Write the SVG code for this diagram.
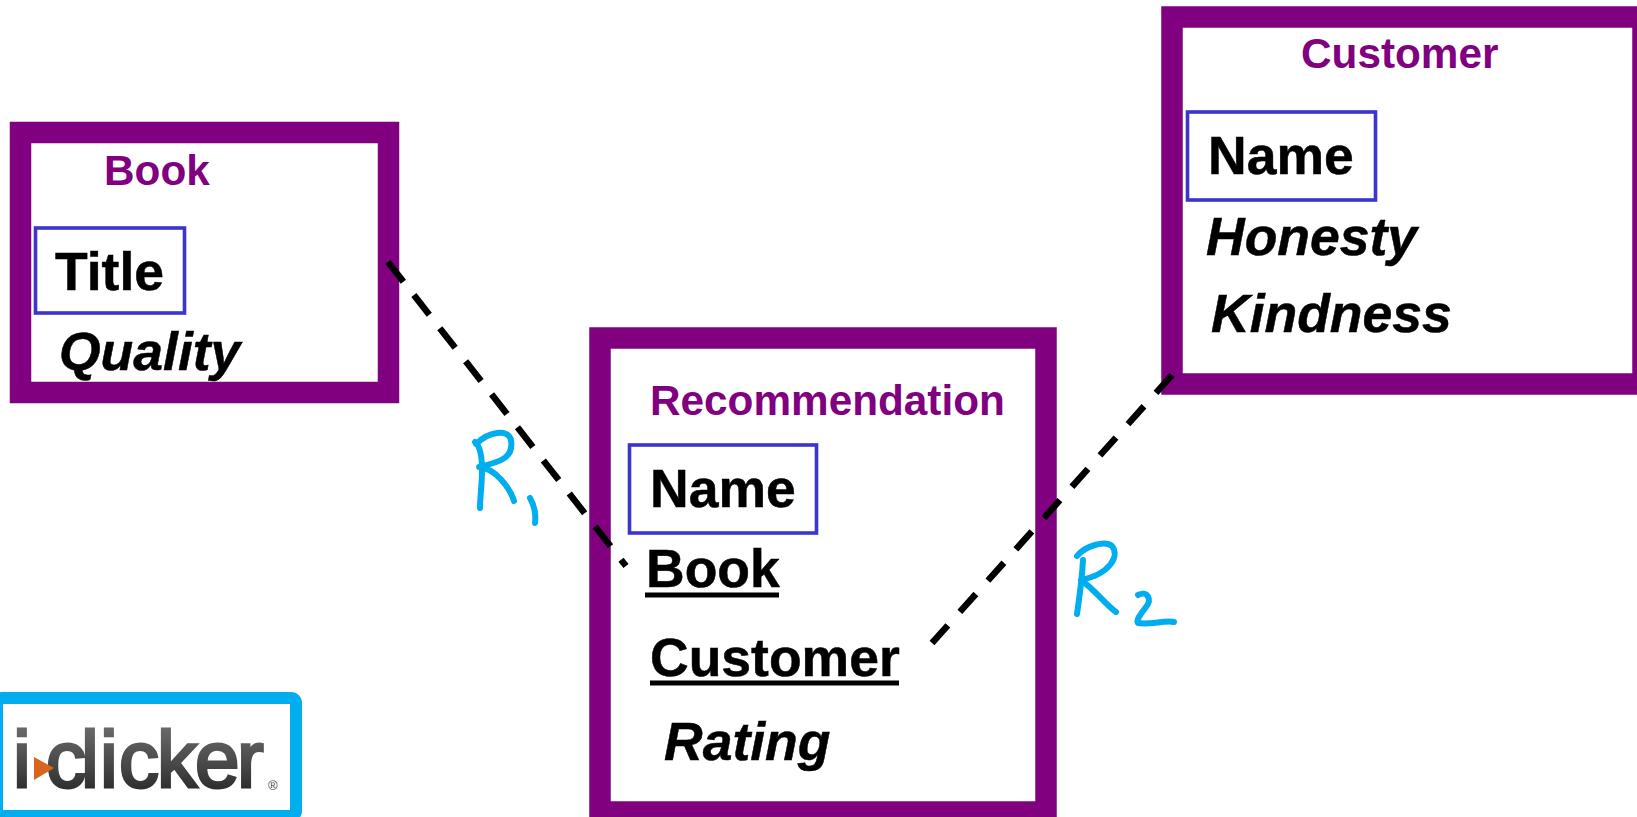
<svg xmlns="http://www.w3.org/2000/svg" width="1637" height="817" viewBox="0 0 1637 817">
<defs><linearGradient id="g" x1="0" y1="0" x2="0" y2="1"><stop offset="0" stop-color="#757575"/><stop offset="0.6" stop-color="#444"/><stop offset="1" stop-color="#1f1f1f"/></linearGradient></defs>
<style>
.box{fill:#fff;stroke:#800080;stroke-width:21.5}
.key{fill:none;stroke:#3a35d0;stroke-width:3.6}
text{font-family:"Liberation Sans",Arial,sans-serif;font-weight:700}
.t{fill:#800080;font-size:42.300px}
.a{fill:#000;stroke:#000;stroke-width:.5;font-size:53.500px}
.i{font-style:italic}
.u{stroke:#000;stroke-width:5;fill:none}
.c1{stroke:#000;stroke-width:6.500;fill:none;stroke-dasharray:25 17}
.c2{stroke:#000;stroke-width:6.500;fill:none;stroke-dasharray:24 18}
.ink{stroke:#00aeef;stroke-width:6;fill:none;stroke-linecap:round;stroke-linejoin:round}
.logo{font-size:80px;font-weight:400;fill:url(#g);stroke:url(#g);stroke-width:3}
</style>
<rect width="1637" height="817" fill="#fff"/>
<g id="node-book">
<rect class="box" x="20.500" y="132.500" width="368" height="260"/>
<text class="t" x="104" y="185">Book</text>
<rect class="key" x="35.500" y="228" width="149" height="85"/>
<text class="a" x="55" y="290">Title</text>
<text class="a i" x="59" y="370">Quality</text>
</g>
<g id="node-recommendation">
<rect class="box" x="600" y="338" width="446" height="474"/>
<text class="t" x="650" y="415">Recommendation</text>
<rect class="key" x="629.500" y="445" width="187" height="88"/>
<text class="a" x="650" y="507">Name</text>
<text class="a" x="646" y="587">Book</text>
<line class="u" x1="645" y1="595" x2="779" y2="595"/>
<text class="a" x="650" y="676">Customer</text>
<line class="u" x1="650" y1="683" x2="899" y2="683"/>
<text class="a i" x="664" y="760">Rating</text>
</g>
<g id="node-customer">
<rect class="box" x="1172" y="17" width="471" height="367"/>
<text class="t" x="1301" y="68">Customer</text>
<rect class="key" x="1187.500" y="112" width="188" height="88"/>
<text class="a" x="1208" y="174">Name</text>
<text class="a i" x="1206" y="255">Honesty</text>
<text class="a i" x="1211" y="332">Kindness</text>
</g>
<g id="connectors">
<line class="c1" x1="388" y1="262" x2="626" y2="566"/>
<line class="c2" x1="1172" y1="375" x2="932" y2="643"/>
</g>
<g id="labels">
<path class="ink" d="M475 442C480 446 482 455 482 470C482 485 480 497 480 508M476 444C488 432 508 428 511 440C514 458 500 462 479 467C495 468 510 488 514 501M530 498C534 505 536 515 535 523"/>
<path class="ink" d="M1077 556C1085 546 1105 540 1112 546C1120 556 1110 574 1081 580M1083 560C1082 580 1079 600 1077 614M1081 580C1095 590 1106 605 1116 612M1138 595C1148 590 1152 600 1146 607C1140 615 1136 620 1138 623C1150 625 1165 620 1174 622"/>
</g>
<g id="logo">
<rect x="-3" y="698" width="299" height="118" rx="5" fill="#fff" stroke="#00aeef" stroke-width="12"/>
<text class="logo" x="13 46 81 100 119 157 195 237" y="787">iclicker</text>
<text x="268" y="790" font-size="13" fill="#444" style="font-weight:400">®</text>
<path d="M34 757L54 768L34 780Z" fill="#d9641e"/>
</g>
</svg>
